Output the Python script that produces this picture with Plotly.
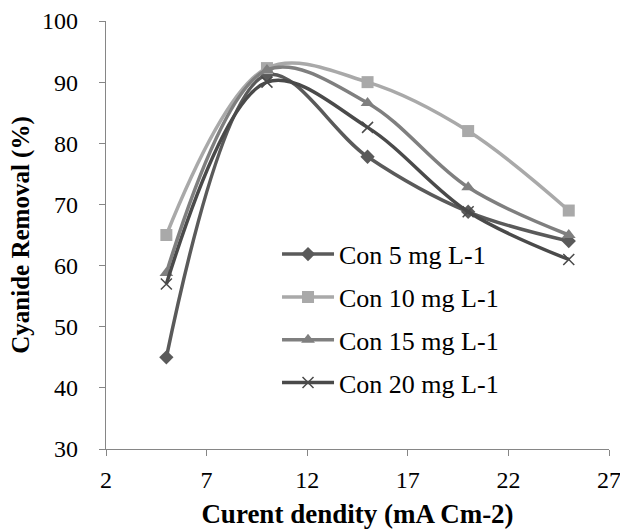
import plotly.graph_objects as go

x_vals = [5, 10, 15, 20, 25]
con5 = [45, 91.2, 77.8, 68.8, 64]
con10 = [65, 92.3, 90, 82, 69]
con15 = [58.8, 92, 86.6, 72.8, 65]
con20 = [57, 90, 82.6, 68.8, 61]

names = ["Con 5 mg L-1", "Con 10 mg L-1", "Con 15 mg L-1", "Con 20 mg L-1"]
series = [con5, con10, con15, con20]
colors = ["#5a5a5a", "#a9a9a9", "#7f7f7f", "#4a4a4a"]
symbols = ["diamond", "square", "triangle-up", "x-thin"]
sizes = [11, 12, 12, 11]

x_ticks = [2, 7, 12, 17, 22, 27]
y_ticks = [30, 40, 50, 60, 70, 80, 90, 100]

fig = go.Figure()
for i, (n, s) in enumerate(zip(names, series)):
    mk = dict(symbol=symbols[i], size=sizes[i], color=colors[i])
    if symbols[i] == "x-thin":
        mk["line"] = dict(color=colors[i], width=1.5)
    fig.add_trace(go.Scatter(
        x=x_vals, y=s, name=n, mode="lines+markers",
        line=dict(color=colors[i], width=3.5, shape="spline", smoothing=1.0),
        marker=mk, legendgroup=n,
    ))

font = "Liberation Serif"
fig.update_layout(
    width=620, height=529,
    margin=dict(l=106, r=11, t=21, b=80, autoexpand=False),
    paper_bgcolor="white", plot_bgcolor="white",
    font=dict(family=font, size=24, color="#000000"),
    legend=dict(x=0.34, y=0.51, xanchor="left", yanchor="top",
                bgcolor="rgba(0,0,0,0)", font=dict(family=font, size=26, color="#000000"),
                tracegroupgap=6, itemwidth=52),
    showlegend=True,
)
fig.update_xaxes(
    range=[2, 27], tickvals=x_ticks, ticks="outside", ticklen=6,
    tickcolor="#868686", showline=True, linecolor="#868686", linewidth=1.3,
    showgrid=False, zeroline=False, automargin=False, ticklabelstandoff=3,
    ticklabeloverflow="allow",
    title=dict(text="<b>Curent dendity (mA Cm-2)</b>", font=dict(family=font, size=27, color="#000000"), standoff=14),
    tickfont=dict(family=font, size=24, color="#000000"),
)
fig.update_yaxes(
    range=[30, 100], tickvals=y_ticks, ticks="outside", ticklen=6,
    tickcolor="#868686", showline=True, linecolor="#868686", linewidth=1.3,
    showgrid=False, zeroline=False, automargin=False, ticklabelstandoff=16,
    ticklabeloverflow="allow",
    title=dict(text="<b>Cyanide Removal (%)</b>", font=dict(family=font, size=25, color="#000000"), standoff=5),
    tickfont=dict(family=font, size=24, color="#000000"),
)

fig.write_html("out.html")
